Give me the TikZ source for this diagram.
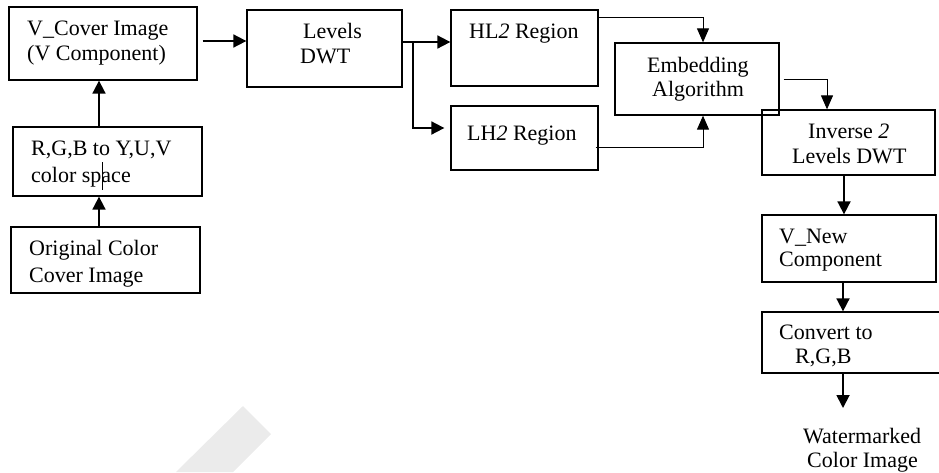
\documentclass[tikz,border=0pt]{standalone}
\usepackage{fontspec}
\setmainfont{Liberation Serif}
\usetikzlibrary{arrows.meta}
\begin{document}
\begin{tikzpicture}[x=1pt,y=-1pt,
  box/.style={draw=black,line width=1.3pt,rectangle,inner sep=0pt},
  lbl/.style={anchor=base west,inner sep=0pt,font=\fontsize{22}{25}\selectfont},
  arr/.style={line width=1.8pt,-{Triangle[length=13pt,width=13pt]}},
  arrthin/.style={line width=1pt,-{Triangle[length=14pt,width=12pt]}}]
\useasboundingbox (0,0) rectangle (939,472);
% faint watermark band
\fill[black!8] (243,406) -- (271,434) -- (233,472) -- (176,472) -- cycle;
% boxes
\node[box,minimum width=188pt,minimum height=73pt] (vcover) at (103,43.5) {};
\node[box,minimum width=155pt,minimum height=77pt] (levels) at (324.5,48.5) {};
\node[box,minimum width=147pt,minimum height=76pt] (hl) at (524.5,48) {};
\node[box,minimum width=147pt,minimum height=64pt] (lh) at (524.5,138) {};
\node[box,minimum width=164pt,minimum height=72pt] (emb) at (697,79) {};
\node[box,minimum width=173pt,minimum height=65pt] (inv) at (848.5,142.5) {};
\node[box,minimum width=189pt,minimum height=69pt] (rgb) at (107.5,161.5) {};
\node[box,minimum width=189pt,minimum height=66pt] (orig) at (105.5,260) {};
\node[box,minimum width=174pt,minimum height=67pt] (vnew) at (849,248.5) {};
\node[box,minimum width=180pt,minimum height=61pt] (conv) at (852,342.5) {};
% texts
\node[lbl] (t1a) at (27,35) {V\_Cover Image};
\node[lbl] (t1b) at (27,60) {(V Component)};
\node[lbl] (t2a) at (303,38) {Levels};
\node[lbl] (t2b) at (300,63) {DWT};
\node[lbl] (t3) at (469,38) {HL\textit{2} Region};
\node[lbl] (t4) at (467,140) {LH\textit{2} Region};
\node[lbl] (t5a) at (647,72) {Embedding};
\node[lbl] (t5b) at (652,96) {Algorithm};
\node[lbl] (t6a) at (808,138) {Inverse \textit{2}};
\node[lbl] (t6b) at (792,163) {Levels DWT};
\node[lbl] (t7a) at (31,155) {R,G,B to Y,U,V};
\node[lbl] (t7b) at (31,182) {color space};
\node[lbl] (t8a) at (29,255) {Original Color};
\node[lbl] (t8b) at (29,282) {Cover Image};
\node[lbl] (t9a) at (779,243) {V\_New};
\node[lbl] (t9b) at (779,266) {Component};
\node[lbl] (t10a) at (779,339) {Convert to};
\node[lbl] (t10b) at (795,363) {R,G,B};
\node[lbl] (t11a) at (803,443) {Watermarked};
\node[lbl] (t11b) at (807,467) {Color Image};
% stray cursor mark
\draw[line width=0.8pt] (102,162) -- (102,190);
% connectors
\coordinate (br) at (413,42);
\coordinate (out) at (843,408);
\draw[arr] ([xshift=5pt,yshift=2.5pt]vcover.east) -- ([yshift=2.5pt]vcover.east -| levels.west);
\draw[arr] ([yshift=6.5pt]levels.east) -- ([yshift=6.5pt]levels.east -| hl.west);
\draw[arr,shorten >=6pt] (br) |- ([yshift=10pt]lh.west);
\draw[arrthin] ([yshift=-8pt]hl.north east) -| ([xshift=6pt]emb.north);
\draw[arrthin] ([xshift=-3pt,yshift=-9pt]lh.east) -| ([xshift=6pt]emb.south);
\draw[arrthin] ([xshift=4pt]emb.east) -| ([xshift=-21.5pt]inv.north);
\draw[arr] ([xshift=-4.5pt]inv.south) -- ([xshift=-4.5pt]inv.south |- vnew.north);
\draw[arr] ([xshift=-6pt]vnew.south) -- ([xshift=-6pt]vnew.south |- conv.north);
\draw[arr] (conv.south -| out) -- (out);
\draw[arr] ([xshift=-8.5pt]rgb.north) -- ([xshift=-8.5pt]rgb.north |- vcover.south);
\draw[arr] ([xshift=-6.5pt]orig.north) -- ([xshift=-6.5pt]orig.north |- rgb.south);
\end{tikzpicture}
\end{document}
